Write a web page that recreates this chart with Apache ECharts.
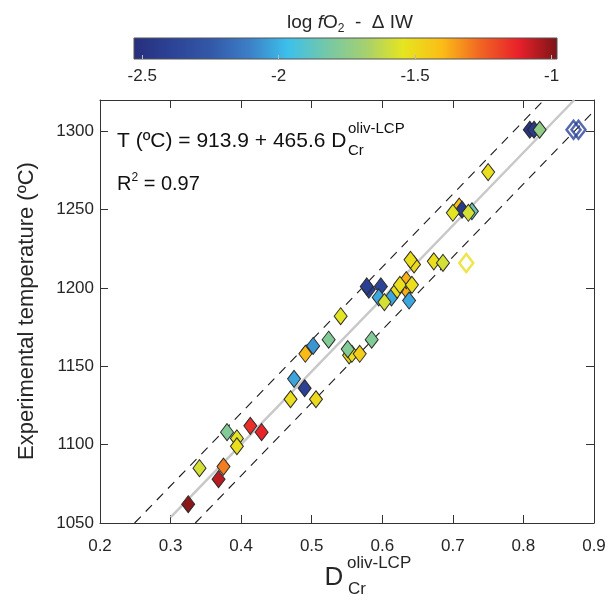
<!DOCTYPE html>
<html><head><meta charset="utf-8">
<script src="https://cdn.jsdelivr.net/npm/echarts@6/dist/echarts.min.js"></script>
<style>html,body{margin:0;padding:0;background:#fff}#c{width:611px;height:605px}</style>
</head><body><div id="c"></div>
<script>
// ---- data ----
const dCr = [0.325,0.368,0.375,0.341,0.380,0.394,0.394,0.413,0.429,0.470,0.506,0.475,0.490,0.491,0.502,0.524,0.541,0.553,0.557,0.568,0.551,0.585,0.581,0.578,0.598,0.595,0.613,0.603,0.634,0.634,0.621,0.625,0.642,0.638,0.645,0.640,0.673,0.686,0.750,0.709,0.713,0.727,0.700,0.722,0.809,0.815,0.823];
const tempC = [1062,1078,1086,1085,1108,1104,1099,1112,1108,1129,1129,1142,1136,1158,1163,1167,1182,1157,1158,1158,1161,1167,1199,1201,1201,1194,1194,1191,1199,1205,1199,1202,1202,1192,1215,1218,1217,1216,1274,1252,1250,1249,1248,1248,1301,1301,1301];
const logfO2 = [-1.00,-1.06,-1.30,-1.58,-1.78,-1.55,-1.52,-1.15,-1.13,-1.52,-1.50,-2.03,-2.40,-1.40,-2.06,-1.78,-1.55,-1.48,-1.52,-1.46,-1.78,-1.78,-2.42,-2.42,-2.38,-2.02,-2.02,-1.58,-1.38,-1.38,-1.52,-1.52,-1.52,-2.02,-1.50,-1.52,-1.52,-1.58,-1.52,-1.42,-2.45,-1.85,-1.55,-1.58,-2.48,-2.45,-1.74];
// open (hollow) symbols
const openD = [0.719,0.871,0.878];
const openT = [1216,1301,1301];
const openF = [-1.52,-2.38,-2.38];
// fit line and +/- envelope end points
const fitD = [0.300,0.872];   const fitT = [1053.6,1320];
const upD  = [0.249,0.829];   const upT  = [1050,1320];
const loD  = [0.335,0.900];   const loT  = [1050,1313];
// ticks
const xTicks = [0.2,0.3,0.4,0.5,0.6,0.7,0.8,0.9];
const yTicks = [1050,1100,1150,1200,1250,1300];
const cbTicks = [-2.5,-2,-1.5,-1];
const cbMin = -2.53, cbMax = -0.98;
const cmapColors = ['#262f7d','#2c4396','#3358a8','#3c7fc6','#3cc0ec','#74c8a8','#a4d070','#e6e51f','#fbbd16','#f16522','#e8202a','#7b1517'];

function hex2rgb(h){return [parseInt(h.substr(1,2),16),parseInt(h.substr(3,2),16),parseInt(h.substr(5,2),16)];}
function cmap(v){
  let t=(v-cbMin)/(cbMax-cbMin); t=Math.max(0,Math.min(1,t));
  const n=cmapColors.length-1, p=t*n, i=Math.min(n-1,Math.floor(p)), f=p-i;
  const a=hex2rgb(cmapColors[i]), b=hex2rgb(cmapColors[i+1]);
  const c=a.map((x,k)=>Math.round(x+(b[k]-x)*f));
  return 'rgb('+c.join(',')+')';
}
const grad = {type:'linear',x:0,y:0,x2:1,y2:0,colorStops:cmapColors.map((c,i)=>({offset:i/(cmapColors.length-1),color:c}))};

const FONT = 'Liberation Sans';
const TXT = '#262626';
const chart = echarts.init(document.getElementById('c'), null, {renderer:'canvas'});

const pts = dCr.map((d,i)=>({value:[d,tempC[i],logfO2[i]], itemStyle:{color:cmap(logfO2[i])}}));
const opens = openD.map((d,i)=>({value:[d,openT[i],openF[i]], itemStyle:{borderColor:cmap(openF[i])}}));

const axBase = {
  type:'value', splitLine:{show:false},
  axisLine:{show:true,onZero:false,lineStyle:{color:'#333',width:1}},
};

chart.setOption({
  animation:false,
  backgroundColor:'#fff',
  grid:[
    {left:100, top:100, width:494, height:423},
    {left:134, top:38, width:423, height:21}
  ],
  xAxis:[
    Object.assign({}, axBase, {gridIndex:0, position:'bottom', min:0.2, max:0.9, interval:0.1,
      axisTick:{inside:true,length:8,lineStyle:{color:'#333'},customValues:xTicks},
      axisLabel:{color:TXT,fontSize:17,fontFamily:FONT,margin:15,customValues:xTicks,formatter:v=>v.toFixed(1)}}),
    Object.assign({}, axBase, {gridIndex:0, position:'top', min:0.2, max:0.9, interval:0.1,
      axisTick:{inside:true,length:8,lineStyle:{color:'#333'},customValues:xTicks},
      axisLabel:{show:false}}),
    {gridIndex:1, type:'value', min:cbMin, max:cbMax, position:'bottom', z:10,
      splitLine:{show:false}, axisLine:{show:false},
      axisTick:{inside:true,length:4,lineStyle:{color:'#bbb'},customValues:cbTicks},
      axisLabel:{color:TXT,fontSize:17,fontFamily:FONT,margin:9,customValues:cbTicks,formatter:v=>String(v)}}
  ],
  yAxis:[
    Object.assign({}, axBase, {gridIndex:0, position:'left', min:1050, max:1320, interval:50,
      axisTick:{inside:true,length:8,lineStyle:{color:'#333'},customValues:yTicks},
      axisLabel:{color:TXT,fontSize:17,fontFamily:FONT,margin:6,customValues:yTicks,formatter:v=>String(v)}}),
    Object.assign({}, axBase, {gridIndex:0, position:'right', min:1050, max:1320, interval:50,
      axisTick:{inside:true,length:8,lineStyle:{color:'#333'},customValues:yTicks},
      axisLabel:{show:false}}),
    {gridIndex:1, type:'value', min:0, max:1, show:false}
  ],
  series:[
    {type:'line', xAxisIndex:0, yAxisIndex:0, silent:true, symbol:'none', z:1,
      data:fitD.map((d,i)=>[d,fitT[i]]), lineStyle:{color:'#c8c8c8',width:2.5}},
    {type:'line', xAxisIndex:0, yAxisIndex:0, silent:true, symbol:'none', z:1,
      data:upD.map((d,i)=>[d,upT[i]]), lineStyle:{color:'#1a1a1a',width:1.1,type:[9,7]}},
    {type:'line', xAxisIndex:0, yAxisIndex:0, silent:true, symbol:'none', z:1,
      data:loD.map((d,i)=>[d,loT[i]]), lineStyle:{color:'#1a1a1a',width:1.1,type:[9,7]}},
    {type:'scatter', xAxisIndex:0, yAxisIndex:0, symbol:'diamond', symbolSize:[13,17], z:3,
      data:pts, itemStyle:{borderColor:'#2a2a2a',borderWidth:1,opacity:1}},
    {type:'scatter', xAxisIndex:0, yAxisIndex:0, symbol:'diamond', symbolSize:[14,18], z:3,
      data:opens, itemStyle:{color:'rgba(255,255,255,0)',borderWidth:2.5}},
    {type:'custom', xAxisIndex:2, yAxisIndex:2, z:2, silent:true, data:[[cbMin,0]],
      renderItem:(params,api)=>{const cs=params.coordSys;
        return {type:'rect',shape:{x:cs.x,y:cs.y,width:cs.width,height:cs.height},style:{fill:grad,stroke:'#555',lineWidth:1}};}}
  ],
  graphic:[
    {type:'text', x:350, y:21, style:{text:'{a|log }{i|f}{a|O}{s|2}{a|  -  Δ IW}', align:'center', verticalAlign:'middle',
      rich:{a:{fontSize:19,fontFamily:FONT,fill:TXT,lineHeight:22,verticalAlign:'bottom'},
            i:{fontSize:19,fontFamily:FONT,fill:TXT,fontStyle:'italic',lineHeight:22,verticalAlign:'bottom'},
            s:{fontSize:12,fontFamily:FONT,fill:TXT,lineHeight:22,verticalAlign:'bottom',padding:[0,0,-3,0]}}}},
    {type:'text', x:117, y:141, style:{text:'T (ºC) = 913.9 + 465.6 D', font:'21px "Liberation Sans"', fill:'#111', verticalAlign:'middle'}},
    {type:'text', x:348, y:129, style:{text:'oliv-LCP', font:'15px "Liberation Sans"', fill:'#111', verticalAlign:'middle'}},
    {type:'text', x:348, y:151, style:{text:'Cr', font:'15px "Liberation Sans"', fill:'#111', verticalAlign:'middle'}},
    {type:'text', x:117, y:183, style:{text:'{a|R}{s|2}{a| = 0.97}', verticalAlign:'middle',
      rich:{a:{fontSize:20,fontFamily:FONT,fill:'#111',lineHeight:22,verticalAlign:'bottom'},
            s:{fontSize:12,fontFamily:FONT,fill:'#111',lineHeight:22,verticalAlign:'top'}}}},
    {type:'text', x:27, y:311, rotation:Math.PI/2, style:{text:'Experimental temperature (ºC)', font:'22px "Liberation Sans"', fill:TXT, align:'center', verticalAlign:'middle'}},
    {type:'text', x:334, y:578, style:{text:'D', font:'26px "Liberation Sans"', fill:TXT, align:'center', verticalAlign:'middle'}},
    {type:'text', x:347, y:563, style:{text:'oliv-LCP', font:'17px "Liberation Sans"', fill:TXT, verticalAlign:'middle'}},
    {type:'text', x:348, y:589, style:{text:'Cr', font:'17px "Liberation Sans"', fill:TXT, verticalAlign:'middle'}}
  ]
});
</script></body></html>
